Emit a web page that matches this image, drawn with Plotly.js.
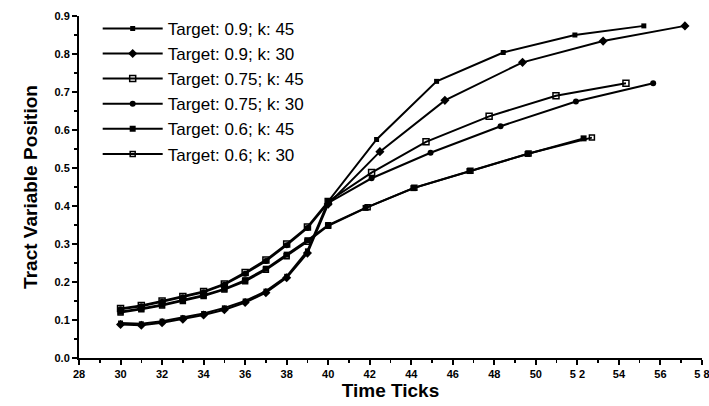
<!DOCTYPE html>
<html>
<head>
<meta charset="utf-8">
<script src="https://cdn.plot.ly/plotly-3.0.1.min.js"></script>
<style>html,body{margin:0;padding:0;background:#fff;}#chart{width:709px;height:406px;}</style>
</head>
<body>
<div id="chart"></div>
<script>
// Early phase (integer ticks 30..40)
const earlyTicks = [30,31,32,33,34,35,36,37,38,39,40];

const t09k45_x = [42.33,45.22,48.43,51.88,55.2];
const t09k45_early = [0.092,0.090,0.097,0.106,0.117,0.132,0.150,0.176,0.215,0.282,0.412];
const t09k45_late = [0.575,0.728,0.804,0.850,0.874];

const t09k30_x = [42.49,45.62,49.36,53.24,57.18];
const t09k30_early = [0.088,0.086,0.093,0.102,0.113,0.127,0.146,0.172,0.211,0.276,0.405];
const t09k30_late = [0.543,0.678,0.778,0.834,0.874];

const t075k45_x = [42.09,44.71,47.75,50.97,54.34];
const t075k45_early = [0.130,0.138,0.150,0.162,0.175,0.195,0.225,0.258,0.300,0.345,0.412];
const t075k45_late = [0.488,0.569,0.636,0.690,0.723];

const t075k30_x = [42.09,44.93,48.30,51.93,55.65];
const t075k30_early = [0.128,0.136,0.148,0.160,0.173,0.193,0.222,0.255,0.297,0.342,0.408];
const t075k30_late = [0.473,0.540,0.610,0.675,0.723];

const t06k45_x = [41.8,44.1,46.8,49.6,52.3];
const t06k45_early = [0.122,0.130,0.140,0.152,0.165,0.182,0.205,0.235,0.272,0.310,0.350];
const t06k45_late = [0.395,0.447,0.492,0.537,0.578];

const t06k30_x = [41.9,44.15,46.85,49.65,52.7];
const t06k30_early = [0.120,0.128,0.138,0.150,0.163,0.180,0.202,0.232,0.268,0.306,0.348];
const t06k30_late = [0.397,0.448,0.493,0.538,0.580];

const names = ["Target: 0.9; k: 45","Target: 0.9; k: 30","Target: 0.75; k: 45","Target: 0.75; k: 30","Target: 0.6; k: 45","Target: 0.6; k: 30"];

const xTickVals = [28,30,32,34,36,38,40,42,44,46,48,50,52,54,56,58];
const xTickText = ["28","30","32","34","36","38","40","42","44","46","48","50","5 2","54","56","5 8"];
const xMinorVals = [29,31,33,35,37,39,41,43,45,47,49,51,53,55,57];
const yTickVals = [0,0.1,0.2,0.3,0.4,0.5,0.6,0.7,0.8,0.9];
const yTickText = ["0.0","0.1","0.2","0.3","0.4","0.5","0.6","0.7","0.8","0.9"];

const series = [
  [t09k45_x, t09k45_early, t09k45_late, {symbol:'square', size:5}],
  [t09k30_x, t09k30_early, t09k30_late, {symbol:'diamond', size:7}],
  [t075k45_x, t075k45_early, t075k45_late, {symbol:'square-open', size:6, line:{width:1.5,color:'#000'}}],
  [t075k30_x, t075k30_early, t075k30_late, {symbol:'circle', size:6}],
  [t06k45_x, t06k45_early, t06k45_late, {symbol:'square', size:6}],
  [t06k30_x, t06k30_early, t06k30_late, {symbol:'square-open', size:5, line:{width:1.5,color:'#000'}}]
];

const traces = series.map((s,i)=>({
  type:'scatter', mode:'lines+markers', name:names[i],
  x: earlyTicks.concat(s[0]),
  y: s[1].concat(s[2]),
  line:{color:'#000', width:2},
  marker: Object.assign({color:'#000'}, s[3])
}));

const layout = {
  width:709, height:406,
  margin:{l:79, r:7, t:16, b:48},
  paper_bgcolor:'#fff', plot_bgcolor:'#fff',
  font:{family:'Liberation Sans, Arial, sans-serif', color:'#000'},
  showlegend:true,
  legend:{x:0.03, y:1.015, xanchor:'left', yanchor:'top', bgcolor:'rgba(0,0,0,0)',
          font:{size:17, family:'Liberation Sans, Arial, sans-serif', color:'#000'},
          itemwidth:60, tracegroupgap:0},
  xaxis:{range:[27.999,58.002], showgrid:false, zeroline:false, showline:true, linecolor:'#000', linewidth:2,
         ticks:'outside', ticklen:5, tickwidth:2, tickcolor:'#000',
         tickvals:xTickVals, ticktext:xTickText, ticklabeloverflow:'allow',
         tickfont:{size:11, family:'Liberation Sans, Arial, sans-serif', weight:'bold'},
         minor:{tickvals:xMinorVals, ticks:'outside', ticklen:3, tickwidth:1.5, tickcolor:'#000', showgrid:false},
         title:{text:'Time Ticks', font:{size:19, weight:'bold'}, standoff:4}},
  yaxis:{range:[0,0.9], showgrid:false, zeroline:false, showline:true, linecolor:'#000', linewidth:2,
         ticks:'outside', ticklen:5, tickwidth:2, tickcolor:'#000',
         tickvals:yTickVals, ticktext:yTickText,
         tickfont:{size:11, family:'Liberation Sans, Arial, sans-serif', weight:'bold'},
         minor:{dtick:0.05, ticks:'outside', ticklen:3, tickwidth:1.5, tickcolor:'#000', showgrid:false},
         title:{text:'Tract Variable Position', font:{size:19, weight:'bold'}, standoff:12}}
};

Plotly.newPlot('chart', traces, layout, {staticPlot:true, displayModeBar:false});
</script>
</body>
</html>
